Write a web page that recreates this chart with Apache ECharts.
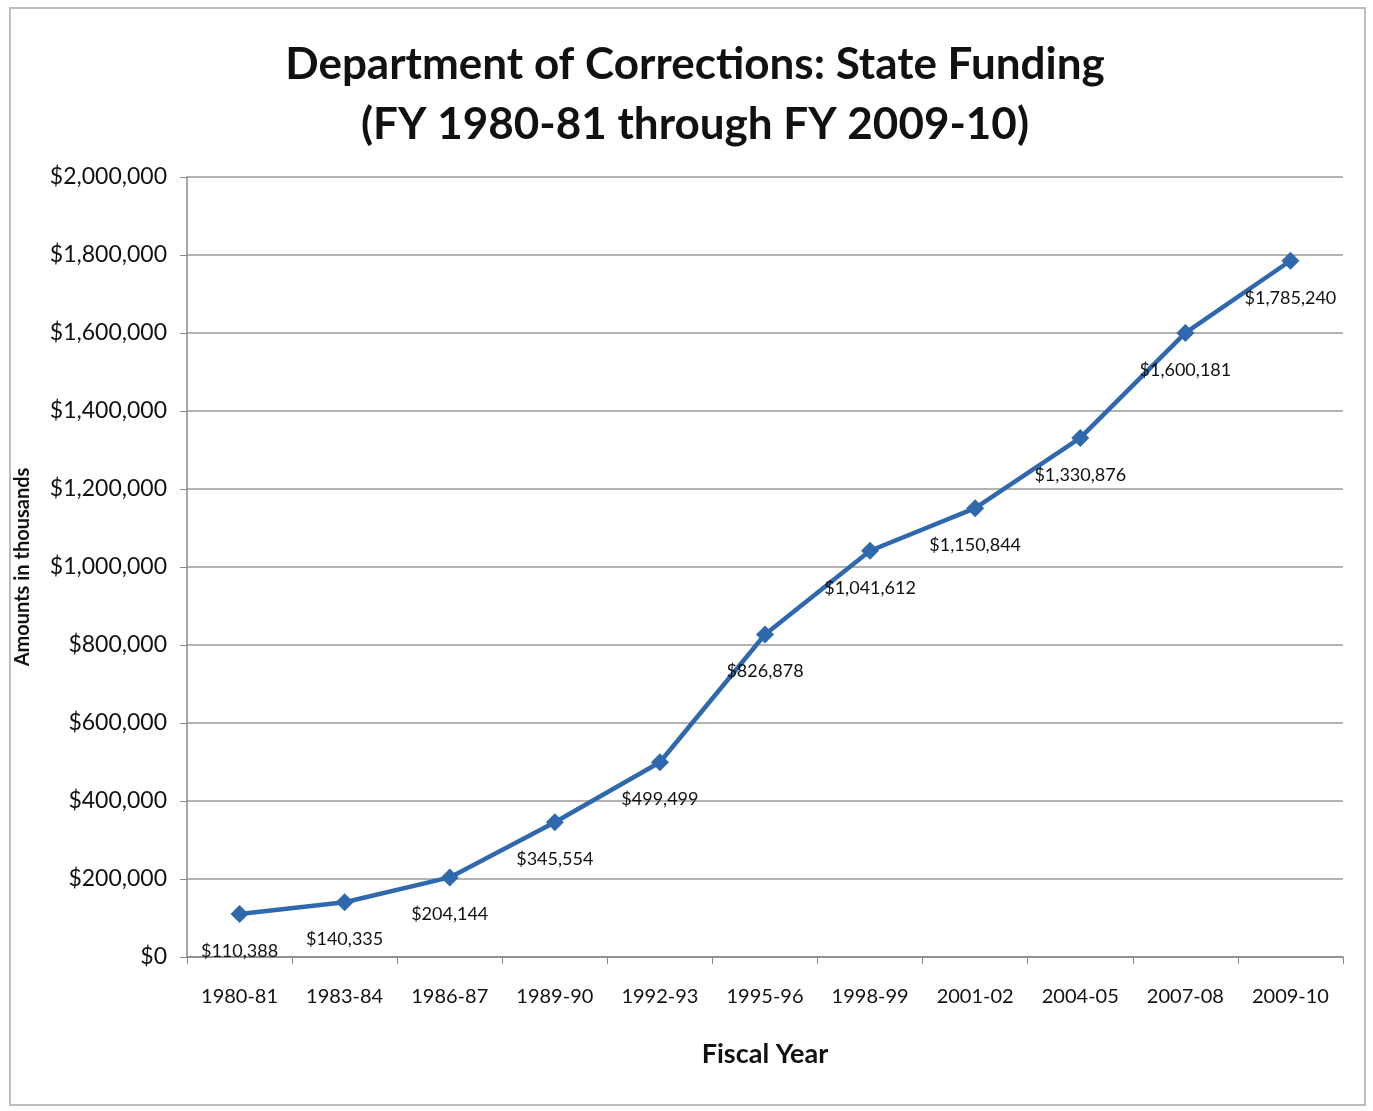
<!DOCTYPE html>
<html><head><meta charset="utf-8">
<script src="https://cdn.jsdelivr.net/npm/echarts@6/dist/echarts.min.js"></script>
<style>
html,body{margin:0;padding:0;background:#fff;}
#frame{position:absolute;left:9px;top:7px;width:1357px;height:1099px;border:2px solid #bdbdbd;box-sizing:border-box;}
#c{position:absolute;left:0;top:0;width:1373px;height:1111px;}
</style></head>
<body>
<div id="frame"></div>
<div id="c"></div>
<script>
const categories = ["1980-81","1983-84","1986-87","1989-90","1992-93","1995-96","1998-99","2001-02","2004-05","2007-08","2009-10"];
const funding = [110388,140335,204144,345554,499499,826878,1041612,1150844,1330876,1600181,1785240];
const titleLines = ["Department of Corrections: State Funding","(FY 1980-81 through FY 2009-10)"];

const fmt = v => '$' + Math.round(v).toLocaleString('en-US');
const font = 'Lato, "Open Sans", sans-serif';
const chart = echarts.init(document.getElementById('c'));
chart.setOption({
  animation:false,
  title:{text:titleLines.join('\n'),left:690,top:30,textAlign:'center',
    textStyle:{fontFamily:font,fontWeight:'bold',fontSize:44,lineHeight:60,color:'#111'}},
  grid:{left:187,right:30,top:177,bottom:154},
  xAxis:{type:'category',data:categories,boundaryGap:true,
    name:'Fiscal Year',nameLocation:'middle',nameGap:84,
    nameTextStyle:{fontFamily:font,fontWeight:'bold',fontSize:27,color:'#111'},
    axisLine:{lineStyle:{color:'#888',width:1.5}},
    axisTick:{show:true,length:7,lineStyle:{color:'#888'}},
    axisLabel:{fontFamily:font,fontSize:20,color:'#111',margin:30}},
  yAxis:{type:'value',min:0,max:2000000,interval:200000,
    name:'Amounts in thousands',nameLocation:'middle',nameGap:154,
    nameTextStyle:{fontFamily:font,fontWeight:'bold',fontSize:20,color:'#111'},
    axisLine:{show:true,lineStyle:{color:'#888',width:1.5}},
    axisTick:{show:true,length:7,lineStyle:{color:'#888'}},
    axisLabel:{fontFamily:font,fontSize:23,color:'#111',margin:20,formatter:fmt},
    splitLine:{lineStyle:{color:'#9a9a9a',width:1.5}}},
  series:[{type:'line',data:funding,
    symbol:'diamond',symbolSize:18,
    lineStyle:{color:'#2f68ad',width:4.5},
    itemStyle:{color:'#2f68ad'},
    label:{show:true,position:'bottom',distance:19,fontFamily:font,fontSize:18,color:'#111',formatter:p=>fmt(p.value)}}]
});
</script>
</body></html>
